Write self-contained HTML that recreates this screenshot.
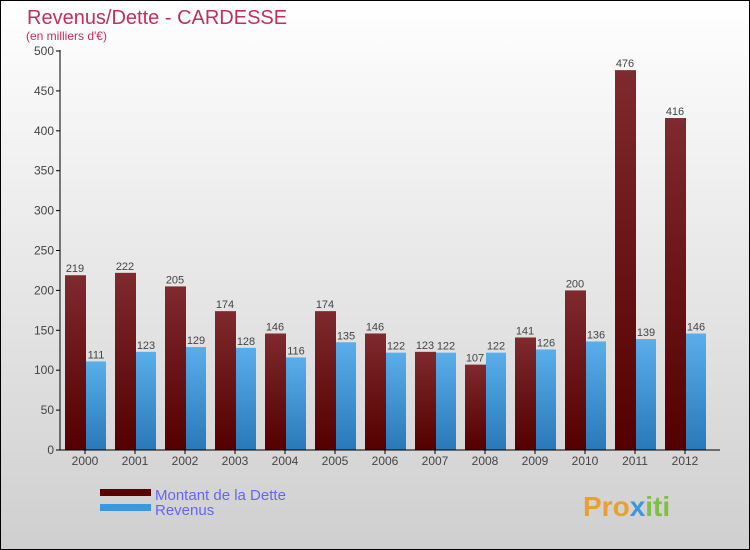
<!DOCTYPE html>
<html><head><meta charset="utf-8"><style>
body{margin:0}
svg{display:block;font-family:"Liberation Sans",sans-serif}
</style></head><body>
<svg width="750" height="550">
<defs>
<linearGradient id="bg" x1="0" y1="0" x2="0" y2="1"><stop offset="0" stop-color="#ffffff"/><stop offset="1" stop-color="#cfcfcf"/></linearGradient>
<linearGradient id="gd" x1="0" y1="0" x2="0" y2="1"><stop offset="0" stop-color="#7e2a2e"/><stop offset="1" stop-color="#540000"/></linearGradient>
<linearGradient id="gr" x1="0" y1="0" x2="0" y2="1"><stop offset="0" stop-color="#5aaeea"/><stop offset="1" stop-color="#2a78b8"/></linearGradient>
</defs>
<rect x="0.5" y="0.5" width="749" height="549" fill="url(#bg)" stroke="#000"/>
<text x="27" y="24" font-size="20" fill="#c0305a">Revenus/Dette - CARDESSE</text>
<text x="26" y="40" font-size="12" fill="#c0305a">(en milliers d'€)</text>
<g id="plot"></g>
<rect x="100" y="489" width="51" height="7" fill="#5a0000"/>
<rect x="100" y="504" width="51" height="7" fill="#3a98e0"/>
<text x="155" y="500" font-size="15" fill="#6666ee">Montant de la Dette</text>
<text x="155" y="515" font-size="15" fill="#6666ee">Revenus</text>
<text x="583" y="516" font-size="28" font-weight="bold" fill="#e8a030">Pro<tspan fill="#3a98e0">x</tspan><tspan fill="#80c040">iti</tspan></text>
</svg>
<script>
const years=["2000","2001","2002","2003","2004","2005","2006","2007","2008","2009","2010","2011","2012"];
const debt=[219,222,205,174,146,174,146,123,107,141,200,476,416];
const revenue=[111,123,129,128,116,135,122,122,122,126,136,139,146];
const yTicks=[0,50,100,150,200,250,300,350,400,450,500];
const NS="http://www.w3.org/2000/svg";
const g=document.getElementById('plot');
const y=v=>450-v*0.798;
const xc=i=>85+i*50;
function el(t,a,txt){const e=document.createElementNS(NS,t);for(const k in a)e.setAttribute(k,a[k]);if(txt!=null)e.textContent=txt;g.appendChild(e);return e;}
yTicks.forEach(v=>{
 const t=el('line',{x1:56,x2:60,y1:y(v),y2:y(v),stroke:'#000'});
 
 
 const l=el('text',{x:54,y:y(v)+4,'font-size':12,'text-anchor':'end',fill:'#444'},v);
 
 
});
years.forEach((yr,i)=>{
 const c=xc(i);
 const b1=el('rect',{x:c-20,y:y(debt[i]),width:21,height:450-y(debt[i]),fill:'url(#gd)'});
 
 
 const b2=el('rect',{x:c+1,y:y(revenue[i]),width:20,height:450-y(revenue[i]),fill:'url(#gr)'});
 
 
 const l1=el('text',{x:c-10,y:y(debt[i])-3,'font-size':11,'text-anchor':'middle',fill:'#444'},debt[i]);
 
 
 const l2=el('text',{x:c+11,y:y(revenue[i])-3,'font-size':11,'text-anchor':'middle',fill:'#444'},revenue[i]);
 
 
 const tk=el('line',{x1:c,x2:c,y1:450,y2:454,stroke:'#000'});
 
 
 const xl=el('text',{x:c,y:465,'font-size':12,'text-anchor':'middle',fill:'#444'},yr);
 
 
});
const ax=el('line',{x1:60,x2:60,y1:50,y2:450,stroke:'#000'});


const bx=el('line',{x1:60,x2:720,y1:450,y2:450,stroke:'#000'});


</script>
</body></html>
